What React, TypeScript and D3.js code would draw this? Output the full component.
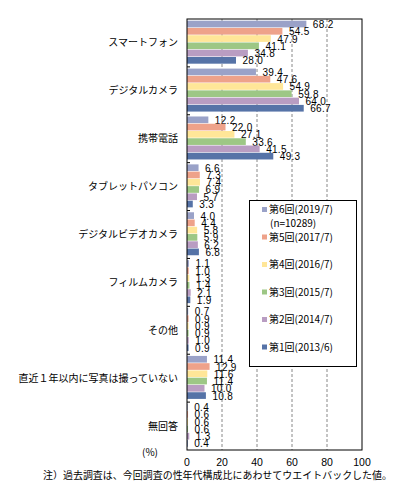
import React from "react";
import * as d3 from "d3";

const categories = [
  "スマートフォン",
  "デジタルカメラ",
  "携帯電話",
  "タブレットパソコン",
  "デジタルビデオカメラ",
  "フィルムカメラ",
  "その他",
  "直近１年以内に写真は撮っていない",
  "無回答",
];
const seriesNames = [
  "第6回(2019/7)",
  "第5回(2017/7)",
  "第4回(2016/7)",
  "第3回(2015/7)",
  "第2回(2014/7)",
  "第1回(2013/6)",
];
const s6 = [68.2, 39.4, 12.2, 6.6, 4.0, 1.1, 0.7, 11.4, 0.4];
const s5 = [54.5, 47.6, 22.0, 7.3, 4.4, 1.0, 0.9, 12.9, 0.6];
const s4 = [47.9, 54.9, 27.1, 7.4, 5.8, 1.3, 0.9, 11.6, 0.6];
const s3 = [41.1, 59.8, 33.6, 6.9, 5.9, 1.4, 0.9, 11.4, 0.6];
const s2 = [34.8, 64.0, 41.5, 5.7, 6.2, 2.1, 1.0, 10.0, 1.3];
const s1 = [28.0, 66.7, 49.3, 3.3, 6.8, 1.9, 0.9, 10.8, 0.4];
const xTicks = [0, 20, 40, 60, 80, 100];

const colors = ["#9AA2C8", "#EEA28A", "#FFE698", "#9DC785", "#B99DC2", "#5673A7"];
const allSeries = [s6, s5, s4, s3, s2, s1];

const W = 397;
const H = 499;
const left = 187;
const right = 362;
const top = 19;
const bottom = 450;

export default function App() {
  const x = d3.scaleLinear().domain([0, 100]).range([left, right]);
  const y = d3.scaleBand<string>().domain(categories).range([top, bottom]).paddingInner(0).paddingOuter(0);
  const inner = d3
    .scaleBand<number>()
    .domain(d3.range(6))
    .range([1.7, y.bandwidth() - 3.2])
    .paddingInner(0.08);

  const jp = "'Noto Sans CJK JP', sans-serif";
  const num = "'Liberation Sans', Arial, sans-serif";

  const legendY = [209.5, 237, 264.5, 292, 319.5, 347];

  return (
    <svg
      width={W}
      height={H}
      style={{ position: "fixed", left: 0, top: 0, background: "#fff" }}
    >
      <rect x={0} y={0} width={W} height={H} fill="#fff" />
      {/* gridlines */}
      {xTicks.slice(1, -1).map((t) => (
        <line
          key={t}
          x1={x(t)}
          x2={x(t)}
          y1={top}
          y2={bottom}
          stroke="#888"
          strokeWidth={1}
          strokeDasharray="3,2"
        />
      ))}
      {/* bars */}
      {categories.map((c, ci) => (
        <g key={c}>
          {allSeries.map((s, si) => {
            const yy = (y(c) as number) + (inner(si) as number);
            const h = inner.bandwidth();
            return (
              <g key={si}>
                <rect x={x(0)} y={yy} width={x(s[ci]) - x(0)} height={h} fill={colors[si]} />
                <text
                  x={x(s[ci]) + 6.5}
                  y={yy + h / 2 + 4}
                  fontFamily={num}
                  fontSize={10}
                  letterSpacing={0.3}
                  fill="#000"
                >
                  {s[ci].toFixed(1)}
                </text>
              </g>
            );
          })}
        </g>
      ))}
      {/* frame */}
      <rect x={left} y={top} width={right - left} height={bottom - top} fill="none" stroke="#000" strokeWidth={1} />
      {/* category ticks */}
      {categories.slice(1).map((c) => (
        <line key={c} x1={left} x2={left + 3} y1={y(c)} y2={y(c)} stroke="#000" />
      ))}
      {/* category labels */}
      {categories.map((c) => (
        <text
          key={c}
          x={178}
          y={(y(c) as number) + y.bandwidth() / 2 + 3.5}
          textAnchor="end"
          fontFamily={jp}
          fontSize={10}
          fill="#000"
        >
          {c}
        </text>
      ))}
      {/* x tick labels */}
      {xTicks.map((t) => (
        <text key={t} x={x(t)} y={466} textAnchor="middle" fontFamily={num} fontSize={10.5} fill="#000">
          {t}
        </text>
      ))}
      <text x={150} y={456} textAnchor="middle" fontFamily={jp} fontSize={10} fill="#000">
        (%)
      </text>
      {/* legend */}
      <rect x={249.5} y={200.5} width={107} height={166} fill="#fff" stroke="#000" strokeWidth={1} />
      {seriesNames.map((n, i) => (
        <g key={n}>
          <rect x={262} y={legendY[i] - 2.5} width={5} height={5} fill={colors[i]} />
          <text x={269} y={legendY[i] + 3.5} fontFamily={jp} fontSize={10} fill="#000">
            {n}
          </text>
        </g>
      ))}
      <text x={270} y={226.5} fontFamily={jp} fontSize={10} fill="#000">
        (n=10289)
      </text>
      {/* footnote */}
      <text x={43} y={479} fontFamily={jp} fontSize={10} textLength={349} lengthAdjust="spacingAndGlyphs" fill="#000">
        注）過去調査は、今回調査の性年代構成比にあわせてウエイトバックした値。
      </text>
    </svg>
  );
}
